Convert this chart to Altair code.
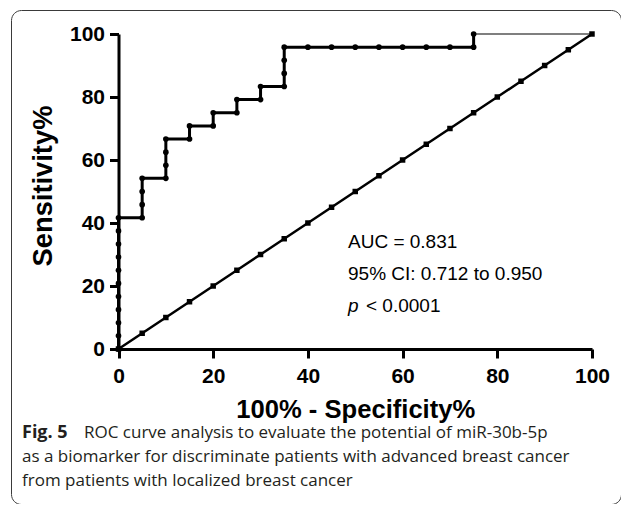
import altair as alt
import pandas as pd

# ROC curve points (100% - Specificity%, Sensitivity%)
roc_x = [0, 0, 0, 0, 0, 0, 0, 0, 0, 0, 0,
         5, 5, 5, 5,
         10, 10, 10, 10,
         15, 15, 20, 20, 25, 25, 30, 30,
         35, 35, 35, 35,
         40, 45, 50, 55, 60, 65, 70, 75, 75, 100]
roc_y = [0, 4.17, 8.33, 12.5, 16.67, 20.83, 25, 29.17, 33.33, 37.5, 41.67,
         41.67, 45.83, 50, 54.17,
         54.17, 58.33, 62.5, 66.67,
         66.67, 70.83, 70.83, 75, 75, 79.17, 79.17, 83.33,
         83.33, 87.5, 91.67, 95.83,
         95.83, 95.83, 95.83, 95.83, 95.83, 95.83, 95.83, 95.83, 100, 100]
# Reference (chance) line
ref_x = [0, 5, 10, 15, 20, 25, 30, 35, 40, 45, 50, 55, 60, 65, 70, 75, 80, 85, 90, 95, 100]
ref_y = [0, 5, 10, 15, 20, 25, 30, 35, 40, 45, 50, 55, 60, 65, 70, 75, 80, 85, 90, 95, 100]
tick_values = [0, 20, 40, 60, 80, 100]

x_title = "100% - Specificity%"
y_title = "Sensitivity%"
stat_lines = ["AUC = 0.831", "95% CI: 0.712 to 0.950"]
p_label = "p"
p_value = "< 0.0001"
fig_label = "Fig. 5"
caption_lines = [
    "ROC curve analysis to evaluate the potential of miR-30b-5p",
    "as a biomarker for discriminate patients with advanced breast cancer",
    "from patients with localized breast cancer",
]

roc = pd.DataFrame({"x": roc_x, "y": roc_y, "i": list(range(len(roc_x)))})
roc_main = roc.iloc[:-1]
roc_tail = roc.iloc[-2:]
ref = pd.DataFrame({"x": ref_x, "y": ref_y, "i": list(range(len(ref_x)))})

VIEW_H = 494
AXFONT = "Liberation Sans"
xs = alt.Scale(domain=[0, 100], range=[107.5, 581], nice=False, zero=False)
ys = alt.Scale(domain=[0, 100], range=[339, 24], nice=False, zero=False)

x_axis = alt.Axis(values=tick_values, offset=339 - VIEW_H, tickSize=9, tickWidth=3,
                  domainWidth=3, domainColor="black", tickColor="black",
                  labelFont=AXFONT, labelFontWeight="bold", labelFontSize=21,
                  labelColor="black", labelPadding=7, labelFlush=False,
                  labelOverlap=False, grid=False, title=x_title,
                  titleFont=AXFONT, titleFontWeight="bold", titleFontSize=25.6,
                  titleColor="black", titleY=48, titleBaseline="top")
y_axis = alt.Axis(values=tick_values, offset=-107.5, tickSize=9, tickWidth=3,
                  domainWidth=3, domainColor="black", tickColor="black",
                  labelFont=AXFONT, labelFontWeight="bold", labelFontSize=21,
                  labelColor="black", labelPadding=5, labelFlush=False,
                  labelOverlap=False, grid=False, title=y_title,
                  titleFont=AXFONT, titleFontWeight="bold", titleFontSize=27.3,
                  titleColor="black", titleAngle=270, titleX=-67, titleY=175.5,
                  titleBaseline="alphabetic", titleAlign="center")

X = alt.X("x:Q", scale=xs, axis=x_axis)
Y = alt.Y("y:Q", scale=ys, axis=y_axis)

ref_line = alt.Chart(ref).mark_line(color="black", strokeWidth=2.5).encode(
    x=X, y=Y, order="i:Q")
ref_pts = alt.Chart(ref).mark_point(shape="square", filled=True, color="black",
                                    size=30, opacity=1).encode(x=X, y=Y)
roc_line = alt.Chart(roc_main).mark_line(color="black", strokeWidth=3).encode(
    x=X, y=Y, order="i:Q")
roc_tail_line = alt.Chart(roc_tail).mark_line(color="black", strokeWidth=1.2).encode(
    x=X, y=Y, order="i:Q")
roc_pts = alt.Chart(roc_main).mark_point(shape="circle", filled=True, color="black",
                                         size=32, opacity=1).encode(x=X, y=Y)

one = alt.Data(values=[{}])


def txt(s, x, y, font, size, weight="normal", style="normal", color="black"):
    return alt.Chart(one).mark_text(align="left", baseline="alphabetic", font=font,
                                    fontSize=size, fontWeight=weight, fontStyle=style,
                                    color=color).encode(
        x=alt.value(x), y=alt.value(y), text=alt.value(s))


layers = [ref_line, ref_pts, roc_line, roc_tail_line, roc_pts]
SF = "Liberation Sans"
layers.append(txt(stat_lines[0], 337, 238, SF, 19))
layers.append(txt(stat_lines[1], 337, 270, SF, 19))
layers.append(txt(p_label, 337, 302, SF, 19, style="italic"))
layers.append(txt(p_value, 355, 302, SF, 19))

CAPFONT = "Open Sans"
CAPCOL = "#231f20"
CS = 17
layers.append(txt(fig_label, 11, 428, CAPFONT, 18, weight="bold", color=CAPCOL))
layers.append(txt(caption_lines[0], 73, 428, CAPFONT, CS, color=CAPCOL))
layers.append(txt(caption_lines[1], 11, 452, CAPFONT, CS, color=CAPCOL))
layers.append(txt(caption_lines[2], 11, 476, CAPFONT, CS, color=CAPCOL))

chart = alt.layer(*layers).properties(
    width=610, height=VIEW_H,
    padding={"left": 3, "top": 2, "right": 0, "bottom": 0},
    autosize=alt.AutoSizeParams(type="none"),
    background="white",
).configure_view(stroke="#3a3a3a", strokeWidth=1, cornerRadius=10)

chart.save("out.html", embed_options={"renderer": "svg", "actions": False})
